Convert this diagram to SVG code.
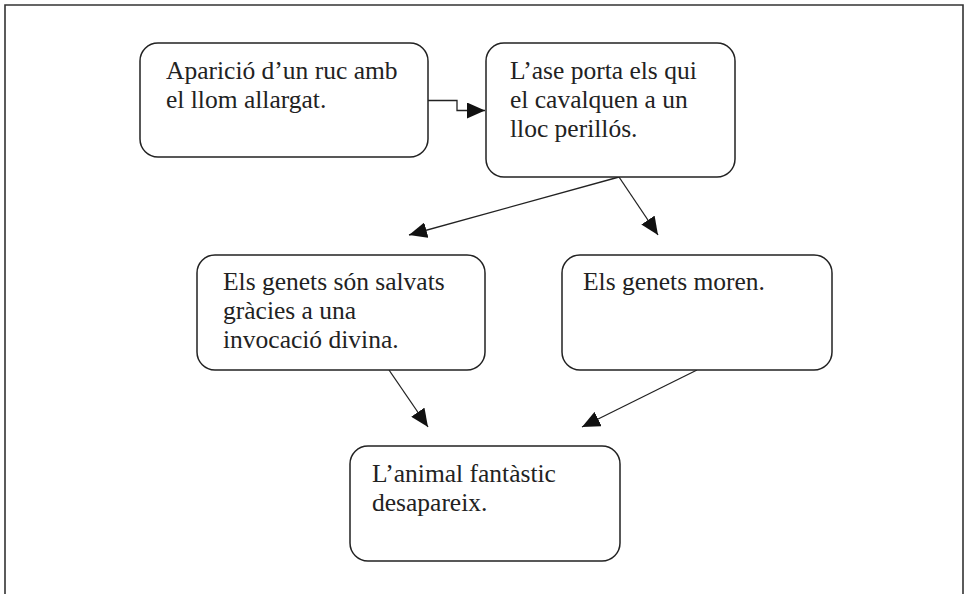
<svg xmlns="http://www.w3.org/2000/svg" width="965" height="594" viewBox="0 0 965 594">
<style>
.box{fill:#fff;stroke:#222;stroke-width:1.5}
.t{font-family:"Liberation Serif","Times New Roman",serif;font-size:25.5px;fill:#222}
.c{fill:none;stroke:#222;stroke-width:1.3}
.frame{fill:none;stroke:#333;stroke-width:1.6}
</style>
<defs>
<marker id="ah" viewBox="0 0 18 16" refX="18" refY="8" markerWidth="18" markerHeight="16" markerUnits="userSpaceOnUse" orient="auto">
<path d="M0,0 L18,8 L0,16 z" fill="#111"/>
</marker>
</defs>
<rect width="965" height="594" fill="#fff"/>
<path class="frame" d="M5,594 V5 H963 V594"/>
<g id="connectors">
<path class="c" d="M428,100.5 H457 V110.5 H485" marker-end="url(#ah)"/>
<path class="c" d="M619,177 L409,235" marker-end="url(#ah)"/>
<path class="c" d="M619,177 L658,235" marker-end="url(#ah)"/>
<path class="c" d="M389,370 L428,427" marker-end="url(#ah)"/>
<path class="c" d="M697,370 L582,427" marker-end="url(#ah)"/>
</g>
<g id="n1">
<rect class="box" x="140" y="43" width="288" height="114" rx="18"/>
<text class="t" x="166" y="79">Aparició d’un ruc amb</text>
<text class="t" x="166" y="108">el llom allargat.</text>
</g>
<g id="n2">
<rect class="box" x="486" y="43" width="249" height="134" rx="18"/>
<text class="t" x="510" y="79">L’ase porta els qui</text>
<text class="t" x="510" y="108">el cavalquen a un</text>
<text class="t" x="510" y="137">lloc perillós.</text>
</g>
<g id="n3">
<rect class="box" x="197" y="255" width="288" height="115" rx="18"/>
<text class="t" x="223" y="290">Els genets són salvats</text>
<text class="t" x="223" y="319">gràcies a una</text>
<text class="t" x="223" y="348">invocació divina.</text>
</g>
<g id="n4">
<rect class="box" x="562" y="255" width="270" height="115" rx="18"/>
<text class="t" x="583" y="290">Els genets moren.</text>
</g>
<g id="n5">
<rect class="box" x="350" y="446" width="270" height="115" rx="18"/>
<text class="t" x="372" y="482">L’animal fantàstic</text>
<text class="t" x="372" y="511">desapareix.</text>
</g>
</svg>
